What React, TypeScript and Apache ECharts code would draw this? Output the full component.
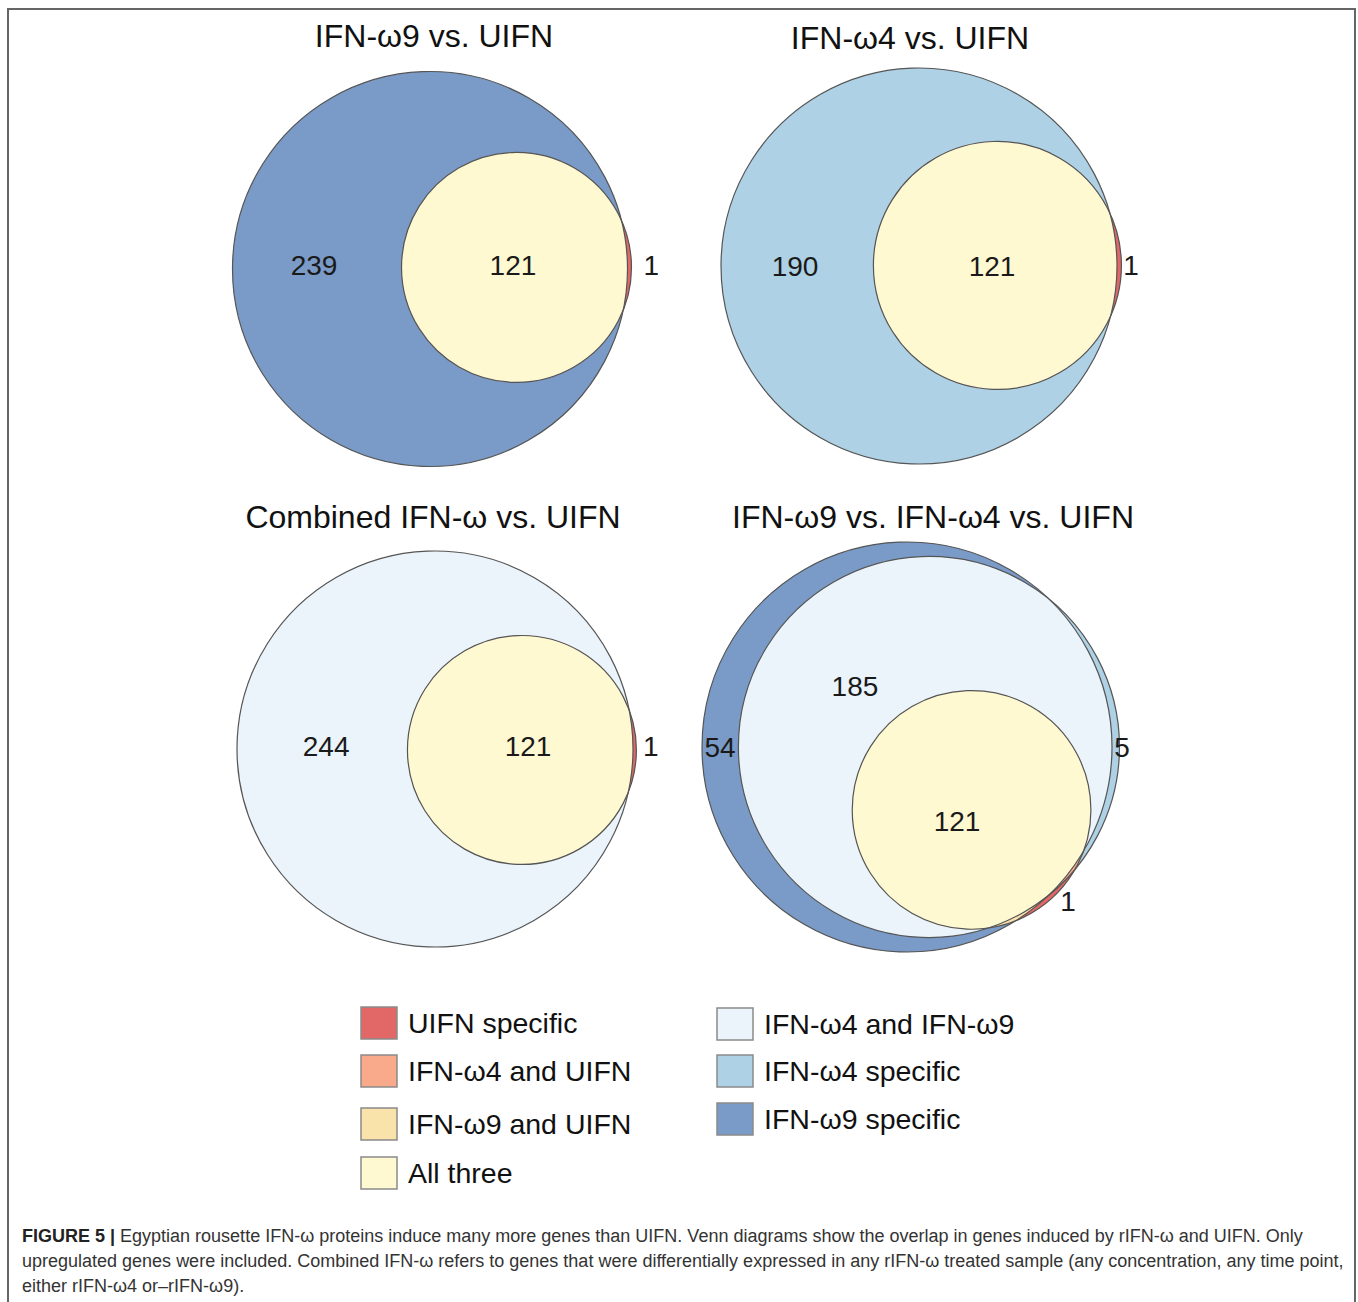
import React, { useEffect, useRef } from "react";
import * as echarts from "echarts";

// ---------------- DATA ----------------
const legendLabels = [
  "UIFN specific",
  "IFN-ω4 and UIFN",
  "IFN-ω9 and UIFN",
  "All three",
  "IFN-ω4 and IFN-ω9",
  "IFN-ω4 specific",
  "IFN-ω9 specific",
];

const panelTitles = [
  "IFN-ω9 vs. UIFN",
  "IFN-ω4 vs. UIFN",
  "Combined IFN-ω vs. UIFN",
  "IFN-ω9 vs. IFN-ω4 vs. UIFN",
];

// Panel 1: IFN-ω9, UIFN
const p1Sets = ["IFN-ω9", "UIFN"];
const p1Regions = [[0], [1], [0, 1]];
const p1Counts = [239, 1, 121];
const p1RegionLegend = [6, 0, 3];

// Panel 2: IFN-ω4, UIFN
const p2Sets = ["IFN-ω4", "UIFN"];
const p2Regions = [[0], [1], [0, 1]];
const p2Counts = [190, 1, 121];
const p2RegionLegend = [5, 0, 3];

// Panel 3: Combined IFN-ω, UIFN
const p3Sets = ["Combined IFN-ω", "UIFN"];
const p3Regions = [[0], [1], [0, 1]];
const p3Counts = [244, 1, 121];
const p3RegionLegend = [4, 0, 3];

// Panel 4: IFN-ω9, IFN-ω4, UIFN
const p4Sets = ["IFN-ω9", "IFN-ω4", "UIFN"];
const p4Regions = [[0], [1], [2], [0, 1], [1, 2], [0, 2], [0, 1, 2]];
const p4Counts = [54, 5, 1, 185, 0, 0, 121];
const p4RegionLegend = [6, 5, 0, 4, 1, 2, 3];

const captionLine1 =
  "Egyptian rousette IFN-ω proteins induce many more genes than UIFN. Venn diagrams show the overlap in genes induced by rIFN-ω and UIFN. Only";
const captionLine2 =
  "upregulated genes were included. Combined IFN-ω refers to genes that were differentially expressed in any rIFN-ω treated sample (any concentration, any time point,";
const captionLine3 = "either rIFN-ω4 or–rIFN-ω9).";

// ---------------- STYLE / LAYOUT ----------------
const legendColors = ["#E16866", "#F9AA8B", "#FAE3AA", "#FFF9D2", "#EAF4FA", "#AED1E5", "#7A9BC8"];
const FONT = "'Liberation Sans', Arial, Helvetica, sans-serif";
const OUTLINE = "#555";

const panelData = [
  { sets: p1Sets, regions: p1Regions, counts: p1Counts, legend: p1RegionLegend },
  { sets: p2Sets, regions: p2Regions, counts: p2Counts, legend: p2RegionLegend },
  { sets: p3Sets, regions: p3Regions, counts: p3Counts, legend: p3RegionLegend },
  { sets: p4Sets, regions: p4Regions, counts: p4Counts, legend: p4RegionLegend },
];

const panelLayout = [
  {
    cx: 430, cy: 269, R: 197.5, title: [434, 36],
    centers: [[0, 0], [0.438, 0.008]],
    labels: [[-0.587, 0.02], [1.12, 0.02], [0.42, 0.02]],
  },
  {
    cx: 919, cy: 266, R: 198, title: [910, 38],
    centers: [[0, 0], [0.396, 0.003]],
    labels: [[-0.626, 0.0], [1.071, 0.005], [0.369, 0.0]],
  },
  {
    cx: 435, cy: 749, R: 198, title: [433, 517],
    centers: [[0, 0], [0.439, -0.005]],
    labels: [[-0.55, 0.015], [1.09, 0.015], [0.47, 0.015]],
  },
  {
    cx: 907, cy: 747, R: 205, title: [933, 517],
    centers: [[0, 0], [0.107, 0], [0.315, -0.307]],
    labels: [[-0.912, 0], [1.049, 0], [0.785, -0.756], [-0.254, 0.293], null, null, [0.244, -0.361]],
  },
];

// ---------------- GEOMETRY HELPERS ----------------
type Pt = [number, number];

function circlePoly(cx: number, cy: number, r: number, n = 360): Pt[] {
  const pts: Pt[] = [];
  for (let i = 0; i < n; i++) {
    const a = (2 * Math.PI * i) / n;
    pts.push([cx + r * Math.cos(a), cy + r * Math.sin(a)]);
  }
  return pts;
}

function cross(ux: number, uy: number, vx: number, vy: number) {
  return ux * vy - uy * vx;
}

function lineIntersect(p: Pt, q: Pt, a: Pt, b: Pt): Pt {
  const ex = b[0] - a[0];
  const ey = b[1] - a[1];
  const den = cross(q[0] - p[0], q[1] - p[1], ex, ey);
  if (Math.abs(den) < 1e-12) return q;
  const t = cross(a[0] - p[0], a[1] - p[1], ex, ey) / den;
  return [p[0] + t * (q[0] - p[0]), p[1] + t * (q[1] - p[1])];
}

function clipPoly(subject: Pt[], clip: Pt[]): Pt[] {
  let area = 0;
  for (let i = 0; i < clip.length; i++) {
    const a = clip[i];
    const b = clip[(i + 1) % clip.length];
    area += a[0] * b[1] - b[0] * a[1];
  }
  const s = area > 0 ? 1 : -1;
  let out = subject;
  for (let i = 0; i < clip.length; i++) {
    if (!out.length) break;
    const a = clip[i];
    const b = clip[(i + 1) % clip.length];
    const inside = (p: Pt) => s * cross(b[0] - a[0], b[1] - a[1], p[0] - a[0], p[1] - a[1]) >= 0;
    const inp = out;
    out = [];
    for (let j = 0; j < inp.length; j++) {
      const cur = inp[j];
      const prev = inp[(j + inp.length - 1) % inp.length];
      const ci = inside(cur);
      const pi = inside(prev);
      if (ci) {
        if (!pi) out.push(lineIntersect(prev, cur, a, b));
        out.push(cur);
      } else if (pi) {
        out.push(lineIntersect(prev, cur, a, b));
      }
    }
  }
  return out;
}

// set sizes and radii (area-proportional)
function setRadii(p: number): number[] {
  const d = panelData[p];
  const sizes = d.sets.map((_, j) =>
    d.regions.reduce((acc, reg, k) => (reg.includes(j) ? acc + d.counts[k] : acc), 0)
  );
  const maxSize = Math.max(...sizes);
  return sizes.map((s) => Math.sqrt(s / maxSize));
}

// ---------------- OPTION ----------------
function buildOption() {
  const grid: any[] = [];
  const xAxis: any[] = [];
  const yAxis: any[] = [];
  const series: any[] = [];

  panelLayout.forEach((L, p) => {
    grid.push({ left: L.cx - L.R, top: L.cy - L.R, width: 2 * L.R, height: 2 * L.R, show: false });
    xAxis.push({ gridIndex: p, type: "value", min: -1, max: 1, show: false });
    yAxis.push({ gridIndex: p, type: "value", min: -1, max: 1, show: false });

    const d = panelData[p];
    const radii = setRadii(p);
    const circles = d.sets.map((_, j) => [L.centers[j][0], L.centers[j][1], radii[j]]);

    // filled regions (painter's order: by subset size)
    series.push({
      type: "custom",
      xAxisIndex: p,
      yAxisIndex: p,
      silent: true,
      data: d.regions.map((reg, k) => [circles[reg[0]][0], circles[reg[0]][1], k]),
      renderItem: (params: any, api: any) => {
        const k = api.value(2);
        const reg = d.regions[k];
        const polys = reg.map((j) => {
          const c = api.coord([circles[j][0], circles[j][1]]);
          const r = api.size([circles[j][2], 0])[0];
          return circlePoly(c[0], c[1], r);
        });
        let poly = polys[0];
        for (let i = 1; i < polys.length; i++) poly = clipPoly(poly, polys[i]);
        if (poly.length < 3) return null;
        return {
          type: "polygon",
          shape: { points: poly },
          style: { fill: legendColors[d.legend[k]], stroke: null },
        };
      },
    });

    // outlines
    series.push({
      type: "custom",
      xAxisIndex: p,
      yAxisIndex: p,
      silent: true,
      data: circles,
      renderItem: (params: any, api: any) => {
        const c = api.coord([api.value(0), api.value(1)]);
        const r = api.size([api.value(2), 0])[0];
        return {
          type: "circle",
          shape: { cx: c[0], cy: c[1], r },
          style: { fill: "none", stroke: OUTLINE, lineWidth: 1.2 },
        };
      },
    });

    // count labels
    const labelData: any[] = [];
    d.regions.forEach((_, k) => {
      const pos = (L.labels as any[])[k];
      if (pos && d.counts[k] > 0) labelData.push([pos[0], pos[1], d.counts[k]]);
    });
    series.push({
      type: "custom",
      xAxisIndex: p,
      yAxisIndex: p,
      silent: true,
      data: labelData,
      renderItem: (params: any, api: any) => {
        const c = api.coord([api.value(0), api.value(1)]);
        return {
          type: "text",
          x: c[0],
          y: c[1],
          style: {
            text: String(api.value(2)),
            fontSize: 28,
            fontFamily: FONT,
            fill: "#1a1a1a",
            align: "center",
            verticalAlign: "middle",
          },
        };
      },
    });
  });

  const graphic: any[] = [];
  // frame
  const frameStyle = { stroke: "#666", lineWidth: 2 };
  graphic.push({ type: "line", shape: { x1: 7, y1: 9, x2: 1356, y2: 9 }, style: frameStyle, silent: true });
  graphic.push({ type: "line", shape: { x1: 8, y1: 9, x2: 8, y2: 1310 }, style: frameStyle, silent: true });
  graphic.push({ type: "line", shape: { x1: 1355, y1: 9, x2: 1355, y2: 1310 }, style: frameStyle, silent: true });

  // titles
  panelLayout.forEach((L, p) => {
    graphic.push({
      type: "text",
      x: L.title[0],
      y: L.title[1],
      silent: true,
      style: {
        text: panelTitles[p],
        fontSize: 32,
        fontFamily: FONT,
        fill: "#111",
        align: "center",
        verticalAlign: "middle",
      },
    });
  });

  // legend
  const legendPos = [
    [361, 1007], [361, 1055], [361, 1108], [361, 1157],
    [717, 1008], [717, 1055], [717, 1103],
  ];
  legendLabels.forEach((lab, i) => {
    const [x, y] = legendPos[i];
    graphic.push({
      type: "rect",
      shape: { x, y, width: 36, height: 32 },
      style: { fill: legendColors[i], stroke: "#8a8a8a", lineWidth: 1.5 },
      silent: true,
    });
    graphic.push({
      type: "text",
      x: x + 47,
      y: y + 16,
      silent: true,
      style: {
        text: lab,
        fontSize: 28.5,
        fontFamily: FONT,
        fill: "#111",
        align: "left",
        verticalAlign: "middle",
      },
    });
  });

  // caption
  const capStyle = { fontSize: 18, fontFamily: FONT, fill: "#333", align: "left", verticalAlign: "middle" };
  graphic.push({
    type: "text",
    x: 22,
    y: 1236,
    silent: true,
    style: {
      ...capStyle,
      text: "{b|FIGURE 5 |} " + captionLine1,
      rich: { b: { fontSize: 18, fontFamily: FONT, fontWeight: "bold", fill: "#222" } },
    },
  });
  graphic.push({ type: "text", x: 22, y: 1261, silent: true, style: { ...capStyle, text: captionLine2 } });
  graphic.push({ type: "text", x: 22, y: 1286, silent: true, style: { ...capStyle, text: captionLine3 } });

  return {
    animation: false,
    backgroundColor: "#fff",
    grid,
    xAxis,
    yAxis,
    series,
    graphic,
  };
}

export default function App() {
  const ref = useRef<HTMLDivElement>(null);
  useEffect(() => {
    document.body.style.margin = "0";
    const chart = echarts.init(ref.current!, null, { renderer: "svg" });
    chart.setOption(buildOption() as any);
    return () => chart.dispose();
  }, []);
  return <div ref={ref} style={{ width: 1358, height: 1302, background: "#fff" }} />;
}
